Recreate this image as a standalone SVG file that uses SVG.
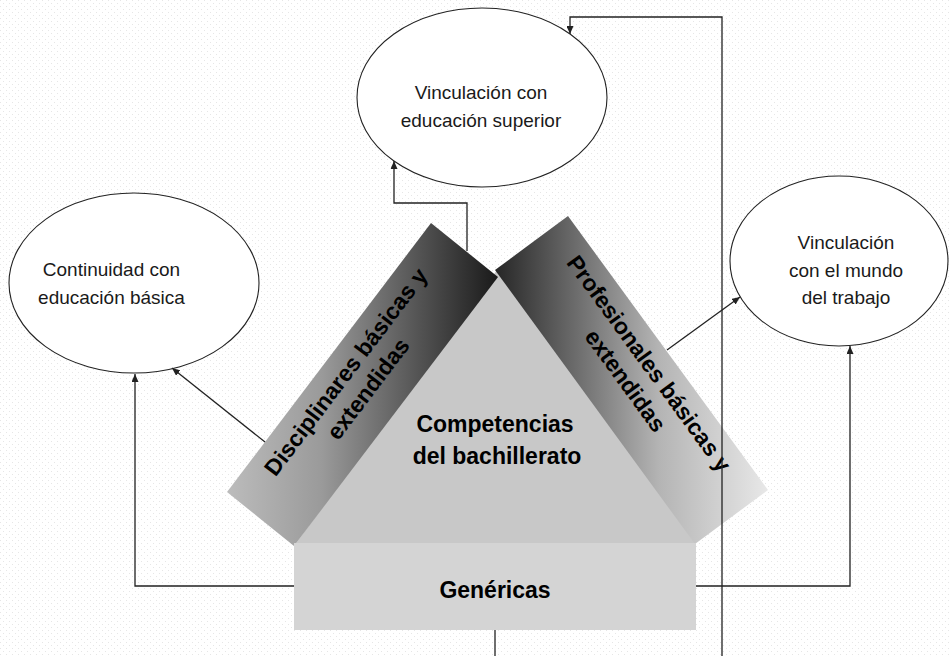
<svg xmlns="http://www.w3.org/2000/svg" width="950" height="656" viewBox="0 0 950 656">
<defs>
<style>
.ell{fill:#fff;stroke:#222;stroke-width:1.1}
.et{font-family:"Liberation Sans",Arial,sans-serif;font-size:19px;fill:#1a1a1a;text-anchor:middle}
.bt{font-family:"Liberation Sans",Arial,sans-serif;font-size:23px;font-weight:bold;fill:#000;text-anchor:middle}
.con{fill:none;stroke:#222;stroke-width:1.3}
</style>
<pattern id="dots" width="6" height="6" patternUnits="userSpaceOnUse">
<rect width="6" height="6" fill="#fff"/>
<rect x="0" y="0" width="1" height="1" fill="#e6e6e6"/>
<rect x="3" y="3" width="1" height="1" fill="#e6e6e6"/>
</pattern>
<linearGradient id="gLeft" gradientUnits="userSpaceOnUse" x1="227" y1="0" x2="498" y2="0">
<stop offset="0" stop-color="#bcbcbc"/>
<stop offset="0.35" stop-color="#9a9a9a"/>
<stop offset="1" stop-color="#1a1a1a"/>
</linearGradient>
<linearGradient id="gRight" gradientUnits="userSpaceOnUse" x1="495" y1="0" x2="768" y2="0">
<stop offset="0" stop-color="#262626"/>
<stop offset="0.6" stop-color="#b4b4b4"/>
<stop offset="1" stop-color="#e8e8e8"/>
</linearGradient>
<marker id="arr" viewBox="0 0 8 7" refX="8" refY="3.5" markerWidth="8" markerHeight="7" markerUnits="userSpaceOnUse" orient="auto">
<path d="M0,0 L8,3.5 L0,7 z" fill="#222"/>
</marker>
</defs>
<rect width="950" height="656" fill="url(#dots)"/>

<g id="node-superior">
<ellipse class="ell" cx="482" cy="97.5" rx="125" ry="89.5"/>
<text class="et" x="481" y="99">Vinculación con</text>
<text class="et" x="481" y="127">educación superior</text>
</g>

<g id="node-basica">
<ellipse class="ell" cx="134" cy="283" rx="125" ry="90"/>
<text class="et" x="111.5" y="276">Continuidad con</text>
<text class="et" x="111.5" y="304">educación básica</text>
</g>

<g id="node-trabajo">
<ellipse class="ell" cx="839" cy="261" rx="109" ry="85"/>
<text class="et" x="846" y="249">Vinculación</text>
<text class="et" x="846" y="277">con el mundo</text>
<text class="et" x="846" y="304">del trabajo</text>
</g>

<g id="node-competencias">
<polygon points="497,270 294,546 696,544" fill="#c8c8c8"/>
<text class="bt" x="495" y="432">Competencias</text>
<text class="bt" x="497" y="464">del bachillerato</text>
</g>

<g id="node-disciplinares">
<polygon points="431,223 498,277 294,546 227,492" fill="url(#gLeft)"/>
<text class="bt" transform="translate(362.5,384.5) rotate(-52.8)"><tspan x="0" y="-13">Disciplinares básicas y</tspan><tspan x="0" y="15">extendidas</tspan></text>
</g>

<g id="node-profesionales">
<polygon points="568,216 768,490 695,544 495,270" fill="url(#gRight)"/>
<text class="bt" transform="translate(631.5,380) rotate(53.9)"><tspan x="-3" y="-16">Profesionales básicas y</tspan><tspan x="-3" y="13">extendidas</tspan></text>
</g>

<g id="node-genericas">
<rect x="294" y="543" width="402" height="87" fill="#d4d4d4"/>
<text class="bt" x="495" y="598">Genéricas</text>
</g>

<g id="connectors">
<polyline class="con" points="294,586 135,586 135,374" marker-end="url(#arr)"/>
<line class="con" x1="265" y1="442" x2="172" y2="368" marker-end="url(#arr)"/>
<polyline class="con" points="467,251 467,203 394,203 394,161" marker-end="url(#arr)"/>
<polyline class="con" points="722,656 722,17 570,17 570,34" marker-end="url(#arr)"/>
<line class="con" x1="495" y1="630" x2="495" y2="656"/>
<polyline class="con" points="696,586 850,586 850,346" marker-end="url(#arr)"/>
<line class="con" x1="667" y1="350" x2="740" y2="297" marker-end="url(#arr)"/>
</g>
</svg>
